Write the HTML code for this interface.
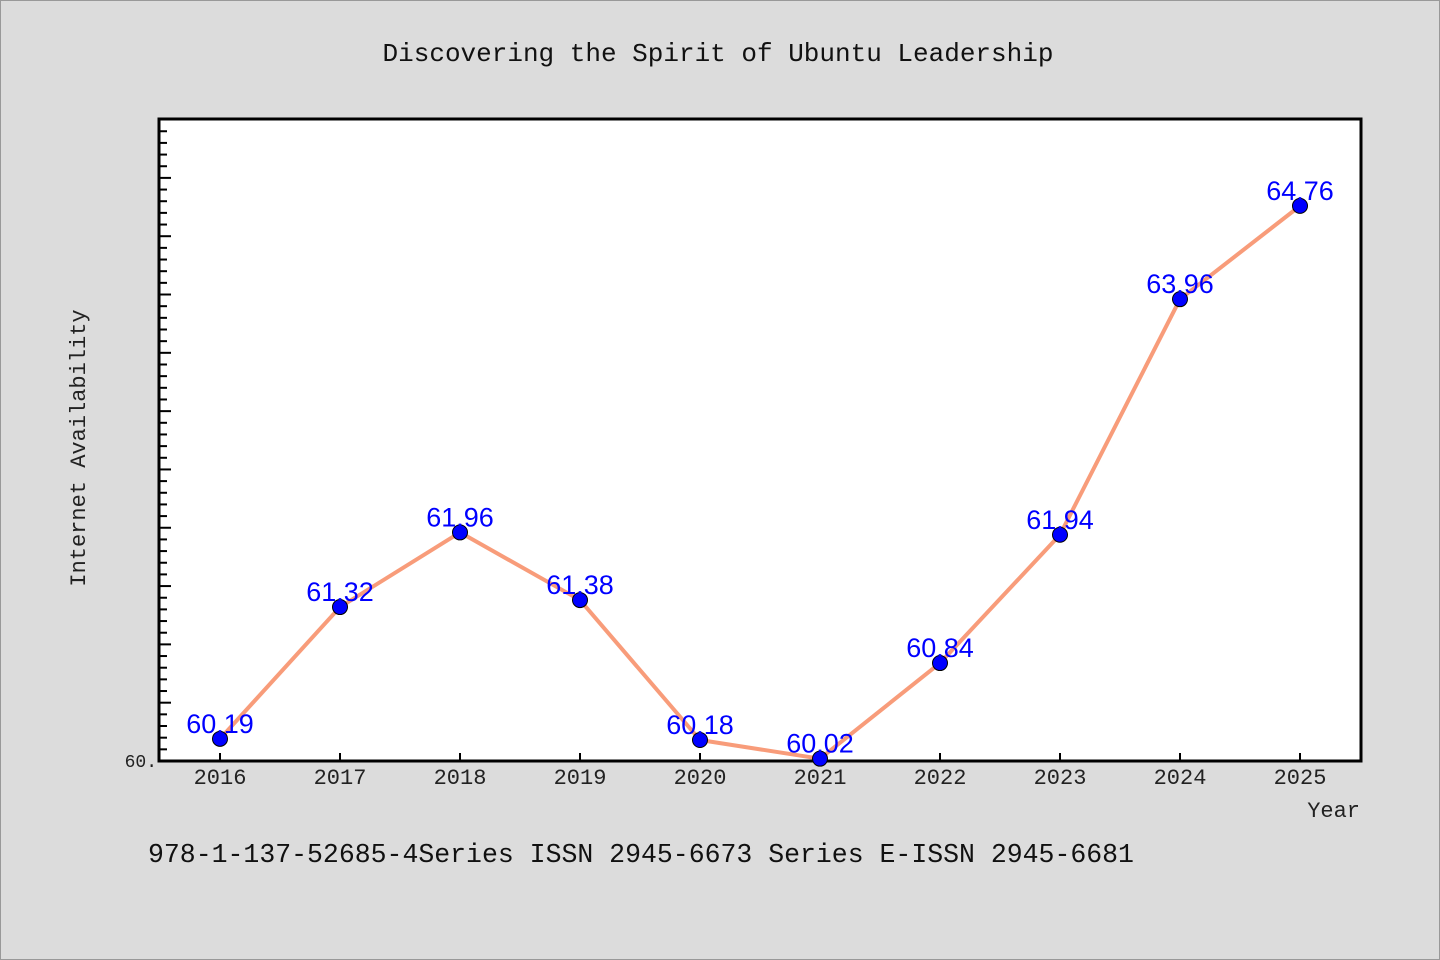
<!DOCTYPE html>
<html><head><meta charset="utf-8"><style>
html,body{margin:0;padding:0;background:#dcdcdc;}
svg{display:block;font-family:"Liberation Mono","DejaVu Sans Mono",monospace;}
.sans{font-family:"Liberation Sans","DejaVu Sans",sans-serif;}
</style></head><body>
<svg id="chart" width="1440" height="960" viewBox="0 0 1440 960">
<rect x="0.5" y="0.5" width="1439" height="959" fill="#dcdcdc" stroke="#999"/>
<text x="718" y="61" text-anchor="middle" font-size="26" fill="#111">Discovering the Spirit of Ubuntu Leadership</text>
<rect x="159" y="119" width="1202" height="642" fill="#fff" stroke="#000" stroke-width="3"/>
<g id="yticks"></g>
<g id="xticks"></g>
<text x="157" y="767" text-anchor="end" font-size="18" fill="#222">60.</text>
<text transform="translate(85,448) rotate(-90)" text-anchor="middle" font-size="22" fill="#222">Internet Availability</text>
<text x="1360" y="817" text-anchor="end" font-size="22" fill="#222">Year</text>
<g id="series"></g>
<text x="148" y="862" font-size="26.5" fill="#111">978-1-137-52685-4Series ISSN 2945-6673 Series E-ISSN 2945-6681</text>
</svg>
<script>
const years = [2016,2017,2018,2019,2020,2021,2022,2023,2024,2025];
const values = [60.19,61.32,61.96,61.38,60.18,60.02,60.84,61.94,63.96,64.76];
const labels = ["60.19","61.32","61.96","61.38","60.18","60.02","60.84","61.94","63.96","64.76"];
const NS="http://www.w3.org/2000/svg";
const yMin=60, yMax=65.505, yTop=119, yBot=761;
const sy=v=>yBot-(v-yMin)/(yMax-yMin)*(yBot-yTop);
const sx=i=>220+i*120;
function mk(t,a,p){const e=document.createElementNS(NS,t);for(const k in a)e.setAttribute(k,a[k]);p.appendChild(e);return e;}
const yt=document.getElementById('yticks');
for(let k=1;k<=54;k++){const v=60+k*0.1;const major=k%5===0;
 const l=mk('line',{x1:159,x2:159+(major?12:8),y1:sy(v),y2:sy(v),stroke:'#000','stroke-width':2},yt);
 
 }
const xt=document.getElementById('xticks');
years.forEach((yr,i)=>{
 const l=mk('line',{x1:sx(i),x2:sx(i),y1:761,y2:753,stroke:'#000','stroke-width':2},xt);
 
 
 const t=mk('text',{x:sx(i),y:784,'text-anchor':'middle','font-size':22,fill:'#222'},xt);
 t.textContent=yr;
 
 
});
const s=document.getElementById('series');
const pl=mk('polyline',{points:values.map((v,i)=>sx(i)+','+sy(v)).join(' '),fill:'none',stroke:'#f89c7a','stroke-width':4,'stroke-linejoin':'round'},s);


values.forEach((v,i)=>{
 const c=mk('circle',{cx:sx(i),cy:sy(v),r:7.5,fill:'#0000ff',stroke:'#000','stroke-width':1},s);
 
 
 const t=mk('text',{x:sx(i),y:sy(v)-6,'text-anchor':'middle','font-size':27,fill:'#0000ff','class':'sans'},s);
 t.textContent=labels[i];
 
 
});
</script>
</body></html>
